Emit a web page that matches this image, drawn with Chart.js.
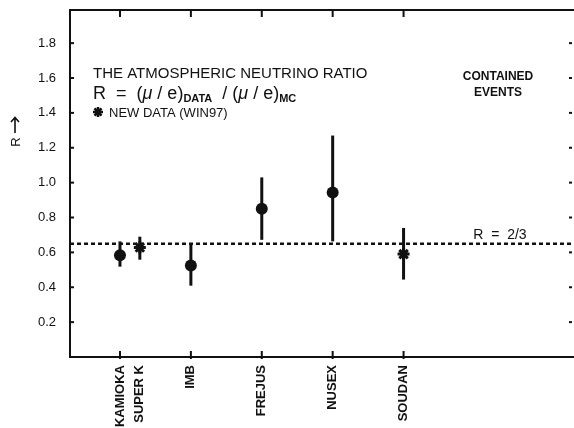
<!DOCTYPE html>
<html><head><meta charset="utf-8">
<script src="https://cdn.jsdelivr.net/npm/chart.js@4"></script>
<style>html,body{margin:0;padding:0;background:#fff}#wrap{width:574px;height:428px}</style>
</head><body>
<div id="wrap"><canvas id="c"></canvas></div>
<script>
const categories = ['KAMIOKA', 'SUPER K', 'IMB', 'FREJUS', 'NUSEX', 'SOUDAN'];
const xPositions = [1, 1.28, 2, 3, 4, 5];
const rValues = [0.583, 0.628, 0.525, 0.85, 0.943, 0.59];
const rUpper  = [0.663, 0.69, 0.644, 1.03, 1.27, 0.74];
const rLower  = [0.518, 0.558, 0.409, 0.672, 0.663, 0.444];
const isNewData = [false, true, false, false, false, true];
const yTicks = [0.2, 0.4, 0.6, 0.8, 1.0, 1.2, 1.4, 1.6, 1.8];
const majorTicks = [1, 2, 3, 4, 5];
const refLine = 0.65;
const X_MIN = 0.295, X_MAX = 7.404, Y_MIN = 0, Y_MAX = 1.99;

const INK = '#111';
const FONT = '"Liberation Sans", Arial, sans-serif';

const oldPts = [], newPts = [];
xPositions.forEach((x, i) => (isNewData[i] ? newPts : oldPts).push({x, y: rValues[i], i}));

const overlay = {
  id: 'overlay',
  beforeDatasetsDraw(chart) {
    const {ctx, chartArea: a, scales: {x, y}} = chart;
    ctx.save();
    ctx.strokeStyle = INK;
    ctx.lineCap = 'butt';
    ctx.lineWidth = 2;
    ctx.beginPath();
    ctx.moveTo(a.right, a.top); ctx.lineTo(a.left, a.top); ctx.lineTo(a.left, a.bottom); ctx.lineTo(a.right, a.bottom);
    ctx.stroke();
    yTicks.forEach(v => {
      const py = y.getPixelForValue(v);
      ctx.beginPath(); ctx.moveTo(a.left, py); ctx.lineTo(a.left + 4, py); ctx.stroke();
      ctx.beginPath(); ctx.moveTo(a.right - 5, py); ctx.lineTo(a.right - 2, py); ctx.stroke();
    });
    majorTicks.forEach(v => {
      const px = x.getPixelForValue(v);
      ctx.beginPath(); ctx.moveTo(px, a.bottom + 2); ctx.lineTo(px, a.bottom - 6); ctx.stroke();
      ctx.beginPath(); ctx.moveTo(px, a.top); ctx.lineTo(px, a.top + 7); ctx.stroke();
    });
    ctx.lineWidth = 3;
    xPositions.forEach((v, i) => {
      const px = x.getPixelForValue(v);
      ctx.beginPath();
      ctx.moveTo(px, y.getPixelForValue(rUpper[i]));
      ctx.lineTo(px, y.getPixelForValue(rLower[i]));
      ctx.stroke();
    });
    ctx.restore();
  },
  afterDraw(chart) {
    const {ctx} = chart;
    ctx.save();
    ctx.fillStyle = INK;
    ctx.strokeStyle = INK;
    ctx.textBaseline = 'alphabetic';
    ctx.textAlign = 'left';
    ctx.font = '15px ' + FONT;
    ctx.fillText('THE ATMOSPHERIC NEUTRINO RATIO', 93, 78);
    let cx = 93;
    const part = (t, f, dy) => { ctx.font = f; ctx.fillText(t, cx, 99 + (dy || 0)); cx += ctx.measureText(t).width; };
    const big = '18px ' + FONT, sub = 'bold 11px ' + FONT, it = 'italic 18px ' + FONT;
    part('R  =  (', big); part('\u03BC', it); part(' / e)', big); part('DATA', sub, 3);
    part('  / (', big); part('\u03BC', it); part(' / e)', big); part('MC', sub, 3);
    ctx.lineWidth = 2.5;
    Chart.helpers.drawPoint(ctx, {pointStyle: 'star', radius: 5, rotation: 0, borderWidth: 2.5}, 98, 112);
    ctx.font = '13px ' + FONT;
    ctx.fillText('NEW DATA (WIN97)', 109, 117);
    ctx.textAlign = 'center';
    ctx.font = 'bold 12px ' + FONT;
    ctx.fillText('CONTAINED', 498, 80);
    ctx.fillText('EVENTS', 498, 96);
    ctx.font = '14px ' + FONT;
    ctx.fillText('R  =  2/3', 500, 239);
    ctx.save();
    ctx.translate(20, 142);
    ctx.rotate(-Math.PI / 2);
    ctx.font = '13px ' + FONT;
    ctx.textAlign = 'center';
    ctx.fillText('R', 0, 0);
    ctx.restore();
    ctx.lineWidth = 1.6;
    ctx.beginPath();
    ctx.moveTo(15, 133); ctx.lineTo(15, 118);
    ctx.moveTo(11, 122); ctx.lineTo(15, 117.5); ctx.lineTo(19, 122);
    ctx.stroke();
    ctx.restore();
  }
};

Chart.defaults.font.family = FONT;
Chart.defaults.color = INK;

new Chart(document.getElementById('c'), {
  type: 'scatter',
  data: {
    datasets: [
      {
        label: 'R = 2/3', type: 'line',
        data: [{x: X_MIN, y: refLine}, {x: X_MAX, y: refLine}],
        borderColor: INK, borderWidth: 2.5, borderDash: [4, 3], pointRadius: 0, fill: false
      },
      {
        label: 'Data', data: oldPts,
        pointStyle: 'circle', pointRadius: 6, backgroundColor: INK, borderColor: INK, borderWidth: 0
      },
      {
        label: 'New data (WIN97)', data: newPts,
        pointStyle: 'star', pointRadius: 6, backgroundColor: INK, borderColor: INK, borderWidth: 3
      }
    ]
  },
  options: {
    responsive: true, maintainAspectRatio: false, animation: false,
    layout: {autoPadding: false, padding: {top: 10, left: 0, right: 0, bottom: 0}},
    plugins: {legend: {display: false}, tooltip: {enabled: false}},
    scales: {
      x: {
        type: 'linear', min: X_MIN, max: X_MAX,
        grid: {display: false, drawTicks: false}, border: {display: false},
        afterBuildTicks: s => { s.ticks = xPositions.map(v => ({value: v})); },
        afterFit: s => { s.height = 71; s.paddingLeft = 0; s.paddingRight = 0; },
        ticks: {
          autoSkip: false, minRotation: 90, maxRotation: 90, padding: 8,
          font: {size: 13, weight: 'bold'},
          callback: (v, i) => categories[i]
        }
      },
      y: {
        type: 'linear', min: Y_MIN, max: Y_MAX,
        grid: {display: false, drawTicks: false}, border: {display: false},
        afterBuildTicks: s => { s.ticks = yTicks.map(v => ({value: v})); },
        afterFit: s => { s.width = 70; s.paddingTop = 0; s.paddingBottom = 0; },
        ticks: {
          padding: 14, font: {size: 13},
          callback: v => v.toFixed(1)
        }
      }
    }
  },
  plugins: [overlay]
});
</script>
</body></html>
